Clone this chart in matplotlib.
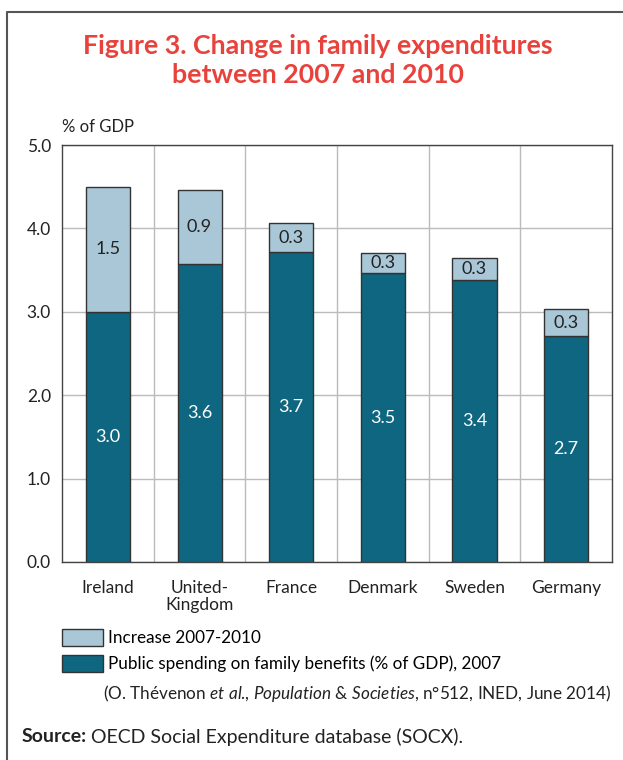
import numpy as np
import matplotlib
matplotlib.use("Agg")
import matplotlib.pyplot as plt
from matplotlib.patches import Patch
from matplotlib.lines import Line2D

plt.rcParams['font.family'] = ['Lato', 'DejaVu Sans']
plt.rcParams['mathtext.fontset'] = 'custom'
plt.rcParams['mathtext.rm'] = 'Lato'
plt.rcParams['mathtext.it'] = 'Lato:italic'
plt.rcParams['mathtext.bf'] = 'Lato:bold'

countries = ["Ireland", "United-\nKingdom", "France", "Denmark", "Sweden", "Germany"]
base_2007 = [3.0, 3.57, 3.72, 3.46, 3.38, 2.71]
increase = [1.5, 0.89, 0.34, 0.25, 0.27, 0.32]
base_labels = ["3.0", "3.6", "3.7", "3.5", "3.4", "2.7"]
increase_labels = ["1.5", "0.9", "0.3", "0.3", "0.3", "0.3"]
yticks = [0, 1, 2, 3, 4, 5]

dark = "#0f6680"
light = "#a9c7d7"
edge = "#333333"
red = "#e8423c"
txt = "#222222"

W, H = 623, 760
fig = plt.figure(figsize=(W/100, H/100), dpi=100)
ax = fig.add_axes([62/W, 1-562/H, 550/W, 417/H])

x = np.arange(len(countries))
w = 0.48
ax.bar(x, base_2007, width=w, color=dark, edgecolor=edge, linewidth=1, zorder=3)
ax.bar(x, increase, width=w, bottom=base_2007, color=light, edgecolor=edge, linewidth=1, zorder=3)

for i in range(len(x)):
    ax.text(x[i], base_2007[i]/2, base_labels[i], ha="center", va="center",
            color="white", fontsize=13, zorder=4)
    ax.text(x[i], base_2007[i] + increase[i]/2, increase_labels[i], ha="center", va="center",
            color=txt, fontsize=13, zorder=4)

ax.set_xlim(-0.5, len(countries) - 0.5)
ax.set_ylim(0, 5)
ax.set_yticks(yticks)
ax.set_yticklabels(["%.1f" % v for v in yticks])
ax.set_xticks(x)
ax.set_xticklabels(countries, linespacing=1.1)
ax.set_xticks(np.arange(0.5, len(countries) - 1, 1), minor=True)
ax.tick_params(axis="both", which="both", length=0, labelsize=12.5, colors=txt)
ax.tick_params(axis="x", pad=13)
ax.tick_params(axis="y", pad=8)
ax.grid(axis="y", which="major", color="#bbbbbb", linewidth=1, zorder=0)
ax.grid(axis="x", which="minor", color="#bbbbbb", linewidth=1, zorder=0)
for s in ax.spines.values():
    s.set_color("#444444")
    s.set_linewidth(1)

fig.text(62/W, 1-127/H, "% of GDP", fontsize=12, color=txt, va="center", ha="left")

fig.text(318/W, 1-46/H, "Figure 3. Change in family expenditures", fontsize=19.3,
         fontweight="bold", color=red, ha="center", va="center")
fig.text(318/W, 1-75/H, "between 2007 and 2010", fontsize=19.3,
         fontweight="bold", color=red, ha="center", va="center")

# legend
handles = [Patch(facecolor=light, edgecolor=edge, label="Increase 2007-2010"),
           Patch(facecolor=dark, edgecolor=edge, label="Public spending on family benefits (% of GDP), 2007")]
fig.legend(handles=handles, loc="upper left", bbox_to_anchor=(62/W, 1-629/H),
           frameon=False, fontsize=12.3, handlelength=2.4, handleheight=1.15,
           handletextpad=0.3, labelspacing=0.5, borderaxespad=0, borderpad=0)

fig.text(612/W, 1-693/H,
         r"(O. Thévenon $\it{et\ al}$., $\it{Population\ &\ Societies}$, n°512, INED, June 2014)",
         fontsize=12.3, color=txt, ha="right", va="center")

# source line: bold word then plain text
renderer = fig.canvas.get_renderer()
t = fig.text(22/W, 1-737/H, "Source:", fontsize=14, fontweight="bold", color=txt,
             ha="left", va="center")
bb = t.get_window_extent(renderer)
fig.text((bb.x1 + 4)/W, 1-737/H, "OECD Social Expenditure database (SOCX).",
         fontsize=14, color=txt, ha="left", va="center")

# outer frame
fig.add_artist(Line2D([7/W, 7/W, 1.0], [0, 1-12/H, 1-12/H],
                      transform=fig.transFigure, color="#555555", linewidth=1.5))

fig.savefig("out.png", dpi=100)
